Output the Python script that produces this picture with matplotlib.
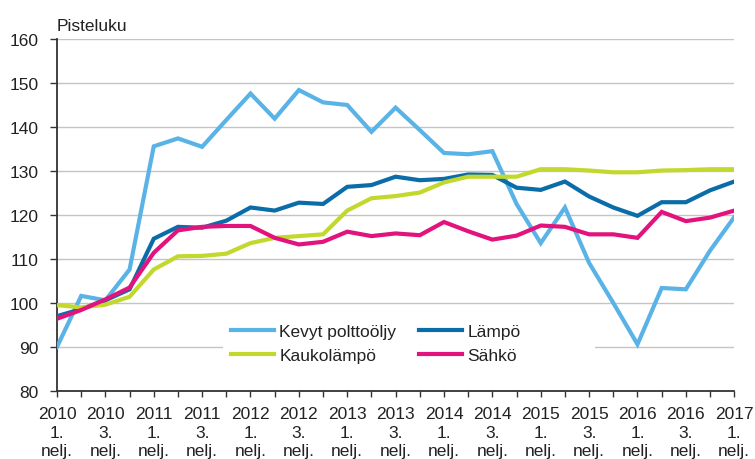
import matplotlib
matplotlib.use("Agg")
import matplotlib.pyplot as plt
from matplotlib.patches import Rectangle

plt.rcParams['font.family'] = ['Liberation Sans', 'DejaVu Sans']

quarters = ["2010 Q1", "2010 Q2", "2010 Q3", "2010 Q4",
            "2011 Q1", "2011 Q2", "2011 Q3", "2011 Q4",
            "2012 Q1", "2012 Q2", "2012 Q3", "2012 Q4",
            "2013 Q1", "2013 Q2", "2013 Q3", "2013 Q4",
            "2014 Q1", "2014 Q2", "2014 Q3", "2014 Q4",
            "2015 Q1", "2015 Q2", "2015 Q3", "2015 Q4",
            "2016 Q1", "2016 Q2", "2016 Q3", "2016 Q4",
            "2017 Q1"]

kevyt = [90.0, 101.6, 100.6, 107.6, 135.6, 137.4, 135.5, 141.6, 147.6, 141.9,
         148.4, 145.6, 145.0, 138.9, 144.4, 139.3, 134.1, 133.8, 134.5, 122.5,
         113.6, 121.7, 109.1, 100.0, 90.6, 103.4, 103.1, 111.9, 119.5]
lampo = [97.0, 98.6, 100.6, 103.1, 114.6, 117.3, 117.1, 118.7, 121.7, 121.0,
         122.8, 122.5, 126.4, 126.8, 128.7, 127.9, 128.2, 129.2, 129.1, 126.2,
         125.7, 127.6, 124.2, 121.7, 119.8, 122.9, 122.9, 125.6, 127.6]
kauko = [99.5, 99.0, 99.6, 101.4, 107.6, 110.6, 110.7, 111.2, 113.6, 114.8,
         115.2, 115.6, 121.0, 123.8, 124.3, 125.1, 127.4, 128.7, 128.7, 128.7,
         130.4, 130.4, 130.1, 129.7, 129.7, 130.1, 130.2, 130.4, 130.4]
sahko = [96.4, 98.4, 100.8, 103.5, 111.4, 116.5, 117.3, 117.5, 117.5, 114.8,
         113.3, 113.9, 116.2, 115.2, 115.8, 115.4, 118.4, 116.3, 114.4, 115.3,
         117.6, 117.3, 115.6, 115.6, 114.8, 120.7, 118.6, 119.4, 121.0]

series_names = ["Kevyt polttoöljy", "Lämpö", "Kaukolämpö", "Sähkö"]
colors = ["#5AB3E6", "#0A6DAA", "#C2D82C", "#E2137C"]

tick_labels = ["2010\n1.\nnelj.", "2010\n3.\nnelj.", "2011\n1.\nnelj.", "2011\n3.\nnelj.",
               "2012\n1.\nnelj.", "2012\n3.\nnelj.", "2013\n1.\nnelj.", "2013\n3.\nnelj.",
               "2014\n1.\nnelj.", "2014\n3.\nnelj.", "2015\n1.\nnelj.", "2015\n3.\nnelj.",
               "2016\n1.\nnelj.", "2016\n3.\nnelj.", "2017\n1.\nnelj."]

FS = 12.5
TXT = "#222222"

fig = plt.figure(figsize=(7.55, 4.6), dpi=100)
ax = fig.add_axes([0.0755, 0.148, 0.897, 0.765])

x = list(range(len(quarters)))
data = [kevyt, lampo, kauko, sahko]
lines = []
for name, vals, c in zip(series_names, data, colors):
    ln, = ax.plot(x, vals, color=c, lw=3.0, label=name, zorder=3,
                  solid_joinstyle='miter')
    lines.append(ln)

ax.set_xlim(0, len(quarters) - 1)
ax.set_ylim(80, 160)
ax.set_yticks(range(80, 161, 10))
ax.set_axisbelow(True)
ax.yaxis.grid(True, color="#C4C4C4", lw=1.0)
ax.xaxis.grid(False)

ax.set_xticks(x)
ax.set_xticklabels([tick_labels[i // 2] if i % 2 == 0 else "" for i in x],
                   linespacing=1.3)
ax.tick_params(axis='x', length=4, width=1, color="#333333", pad=7, labelsize=FS)
ax.tick_params(axis='y', length=5, width=1, color="#333333", pad=8, labelsize=FS)
for lbl in ax.get_xticklabels() + ax.get_yticklabels():
    lbl.set_color(TXT)

for s in ["top", "right"]:
    ax.spines[s].set_visible(False)
for s in ["left", "bottom"]:
    ax.spines[s].set_color("#333333")
    ax.spines[s].set_linewidth(1.3)

# white background behind the legend, hiding gridline
ax.add_patch(Rectangle((0.245, 0.05), 0.55, 0.16, transform=ax.transAxes,
                       facecolor="white", edgecolor="none", zorder=1))

leg = ax.legend(handles=[lines[0], lines[2], lines[1], lines[3]],
                ncol=2, loc="upper left", bbox_to_anchor=(0.2565, 0.19),
                frameon=False, fontsize=FS, handlelength=2.5,
                handletextpad=0.3, columnspacing=1.3, labelspacing=0.5,
                borderaxespad=0, borderpad=0.0)
for t in leg.get_texts():
    t.set_color(TXT)

fig.text(0.0755, 0.943, "Pisteluku", fontsize=FS, color=TXT,
         ha="left", va="center")

fig.savefig("out.png", dpi=100)
